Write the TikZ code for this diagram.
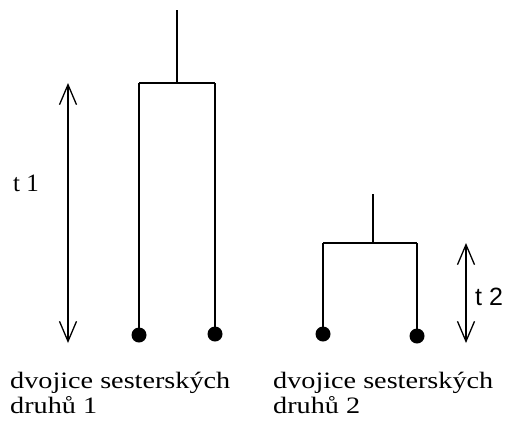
\documentclass[tikz,border=0pt]{standalone}
\usepackage{fontspec}
\setmainfont{Liberation Serif}
\newfontfamily\labfont[FakeStretch=1.2]{Liberation Serif}
\newfontfamily\tfont{Liberation Sans}
\usetikzlibrary{arrows.meta}
\begin{document}
\begin{tikzpicture}[x=1pt,y=-1pt,
  branch/.style={line width=2pt},
  leaf/.style={circle,fill=black,inner sep=0pt,minimum size=15pt},
  span/.style={line width=1.5pt,{Straight Barb[length=20pt,width=17pt,line width=1.3pt]}-{Straight Barb[length=20pt,width=17pt,line width=1.3pt]}},
  caption/.style={anchor=base west,align=left,inner sep=0pt,font=\labfont\fontsize{23.5}{25}\selectfont},
  tlab/.style={anchor=base west,inner sep=0pt,font=\fontsize{25}{30}\selectfont}]
\useasboundingbox (0,0) rectangle (508,429);
% tree 1
\coordinate (r1) at (177,10);
\coordinate (j1) at (177,83);
\coordinate (b1l) at (139,83);
\coordinate (b1r) at (215,83);
\node[leaf] (l1a) at (139,335) {};
\node[leaf] (l1b) at (215,334) {};
\draw[branch] (r1) -- (j1);
\draw[branch] (b1l) -- (b1r);
\draw[branch] (b1l) -- (l1a.center);
\draw[branch] (b1r) -- (l1b.center);
% tree 2
\coordinate (r2) at (373,194);
\coordinate (j2) at (373,243);
\coordinate (b2l) at (323,243);
\coordinate (b2r) at (417,243);
\node[leaf] (l2a) at (323,334) {};
\node[leaf] (l2b) at (417,336) {};
\draw[branch] (r2) -- (j2);
\draw[branch] (b2l) -- (b2r);
\draw[branch] (b2l) -- (l2a.center);
\draw[branch] (b2r) -- (l2b.center);
% time arrows
\coordinate (a1t) at (68,83);
\coordinate (a1b) at (68,343);
\draw[span] (a1t) -- (a1b);
\coordinate (a2t) at (466,243);
\coordinate (a2b) at (466,343);
\draw[span] (a2t) -- (a2b);
\node[tlab] (t1) at (13,191) {t 1};
\node[tlab,font=\tfont\fontsize{25}{30}\selectfont] (t2) at (475,305) {t 2};
% captions
\node[caption] (c1) at (10,388) {dvojice sesterských};
\node[caption] (c1b) at (10,413) {druhů 1};
\node[caption] (c2) at (273,388) {dvojice sesterských};
\node[caption] (c2b) at (273,413) {druhů 2};
\end{tikzpicture}
\end{document}
